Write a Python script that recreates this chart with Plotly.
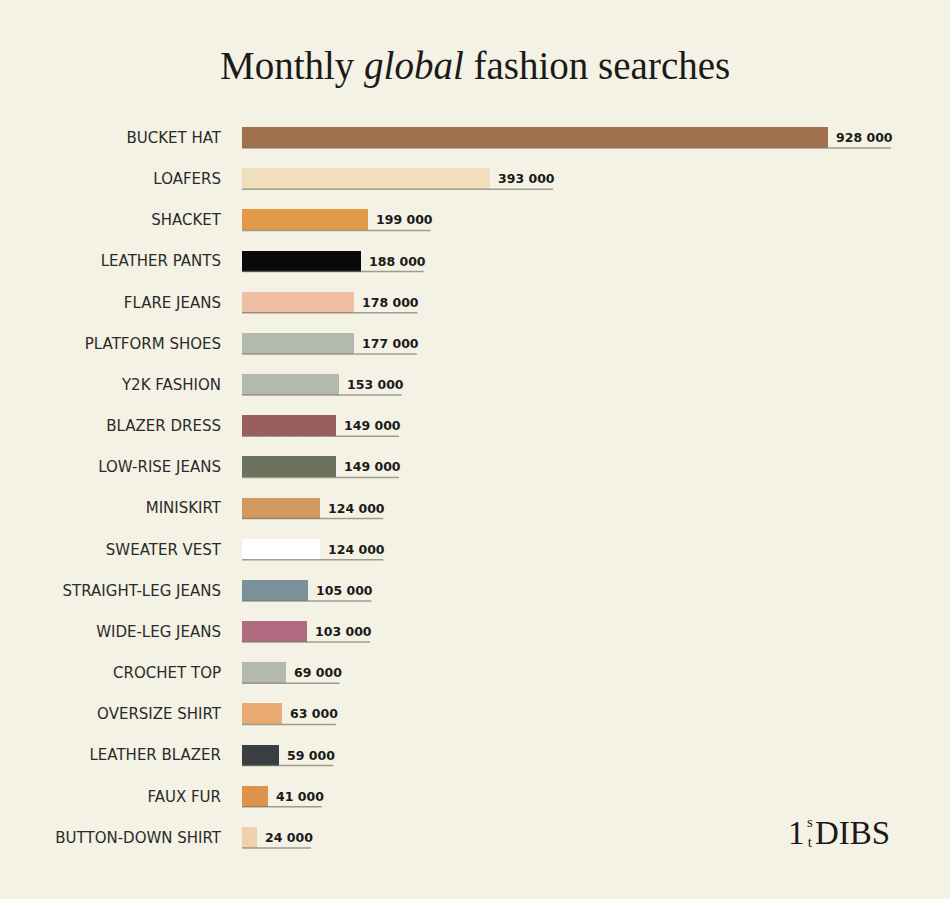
import plotly.graph_objects as go

categories = ["BUCKET HAT", "LOAFERS", "SHACKET", "LEATHER PANTS", "FLARE JEANS",
              "PLATFORM SHOES", "Y2K FASHION", "BLAZER DRESS", "LOW-RISE JEANS",
              "MINISKIRT", "SWEATER VEST", "STRAIGHT-LEG JEANS", "WIDE-LEG JEANS",
              "CROCHET TOP", "OVERSIZE SHIRT", "LEATHER BLAZER", "FAUX FUR",
              "BUTTON-DOWN SHIRT"]
searches = [928000, 393000, 199000, 188000, 178000, 177000, 153000, 149000, 149000,
            124000, 124000, 105000, 103000, 69000, 63000, 59000, 41000, 24000]
colors = ["#a0714c", "#f0dfba", "#e29a4a", "#0a0a0a", "#eebfa2", "#b3b9ad", "#b3b9ad",
          "#9b5f5d", "#6b735d", "#d19a5e", "#ffffff", "#7a9199", "#b06b81", "#b3b9ad",
          "#eaab73", "#3a3e42", "#e0934a", "#f1d0b0"]
patterns = ["", "", "", "", "", "", "", "x", "", "|", "", "", "", "", "", "", ".", ""]
pattern_fg = ["", "", "", "", "", "", "", "#85504e", "", "#b8844a", "", "", "", "", "",
              "", "#c98040", ""]
pattern_op = [1, 1, 1, 1, 1, 1, 1, 0.35, 1, 0.2, 1, 1, 1, 1, 1, 1, 0.2, 1]

BG = "#f4f2e4"
W, H = 950, 899
ML = 242
PW = W - ML
px_per_unit = 586 / 928000
xmax = PW / px_per_unit
n = len(categories)
row_px = 41.2
MT = 137.5 - row_px / 2
PH = row_px * n
MB = H - MT - PH


def fmt(v):
    return f"{v:,}".replace(",", " ")


def paper_x(px):
    return (px - ML) / PW


def paper_y(py):
    return (MT + PH - py) / PH


labels = [fmt(v) for v in searches]
bar_w = 0.51

fig = go.Figure()
for i, (cat, v) in enumerate(zip(categories, searches)):
    fig.add_trace(go.Bar(
        y=[cat], x=[v], orientation="h",
        marker=dict(color=colors[i], line=dict(width=0),
                    pattern=dict(shape=patterns[i], fgcolor=pattern_fg[i] or "#000",
                                 fgopacity=pattern_op[i], size=3, solidity=0.2)),
        width=bar_w, hoverinfo="skip", showlegend=False,
    ))

shapes = []
annotations = []
for i, (cat, v, lab) in enumerate(zip(categories, searches, labels)):
    extra = (9 * len(lab)) / px_per_unit
    yb = i + bar_w / 2
    shapes.append(dict(type="line", xref="x", yref="y", x0=0, x1=v + extra,
                       y0=yb, y1=yb, line=dict(color="rgba(120,120,105,0.7)", width=1.5),
                       layer="above"))
    annotations.append(dict(x=v, y=cat, xref="x", yref="y", text=lab, showarrow=False,
                            xanchor="left", yanchor="middle", xshift=6, yshift=0,
                            font=dict(family="DejaVu Sans", size=12.5,
                                      color="#1a1a1a", weight="bold")))

# Title
annotations.append(dict(x=paper_x(475), y=paper_y(66), xref="paper", yref="paper",
                        text="Monthly <i>global</i> fashion searches", showarrow=False,
                        xanchor="center", yanchor="middle",
                        font=dict(family="Liberation Serif, Times New Roman, serif",
                                  size=39, color="#1a1a1a")))
# Logo 1stDIBS
logo_font = dict(family="Liberation Serif, Times New Roman, serif", color="#1a1a1a")
annotations.append(dict(x=paper_x(806), y=paper_y(833), xref="paper", yref="paper",
                        text="1", showarrow=False, xanchor="right", yanchor="middle",
                        borderpad=0, font=dict(size=33, **logo_font)))
annotations.append(dict(x=paper_x(810), y=paper_y(832), xref="paper", yref="paper",
                        text="s<br>t", showarrow=False, xanchor="center", yanchor="middle",
                        borderpad=0, font=dict(size=15, **logo_font)))
annotations.append(dict(x=paper_x(814), y=paper_y(833), xref="paper", yref="paper",
                        text="DIBS", showarrow=False, xanchor="left", yanchor="middle",
                        borderpad=0, font=dict(size=33, **logo_font)))

fig.update_layout(
    width=W, height=H,
    margin=dict(l=ML, r=0, t=MT, b=MB, pad=0),
    paper_bgcolor=BG, plot_bgcolor=BG,
    barmode="overlay",
    xaxis=dict(range=[0, xmax], visible=False, fixedrange=True),
    yaxis=dict(categoryorder="array", categoryarray=categories, autorange=False,
               range=[n - 0.5, -0.5], showgrid=False, zeroline=False, showline=False,
               ticks="", ticklabelstandoff=20,
               tickfont=dict(family="DejaVu Sans", size=15, color="#2a2a2a")),
    shapes=shapes, annotations=annotations, bargap=0,
)

fig.write_html("out.html")
